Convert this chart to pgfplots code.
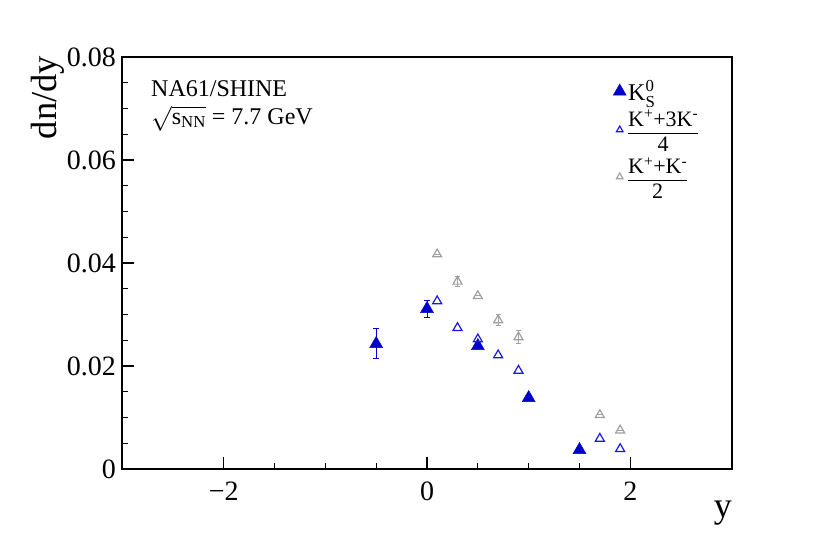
\documentclass[border=0pt]{standalone}
\usepackage{fontspec}
\setmainfont{Liberation Serif}
\usepackage{amsmath}
\usepackage{pgfplots}
\pgfplotsset{compat=1.18}
\definecolor{kfill}{RGB}{0,0,205}
\definecolor{kopen}{RGB}{25,25,230}
\definecolor{kgray}{RGB}{160,160,160}
\newdimen\kw
\newcommand{\kfrac}[2]{{\fontsize{22bp}{24bp}\selectfont
  \setbox0=\hbox{#1}\setbox2=\hbox{#2}%
  \kw=\wd0 \ifdim\wd2>\kw \kw=\wd2 \fi
  \raisebox{-3.5bp}{\vbox{\offinterlineskip
    \hbox to\kw{\hss\box0\hss}%
    \kern6bp
    \hrule height 1.5bp width\kw
    \kern\dimexpr 17.25bp-\ht2\relax
    \hbox to\kw{\hss\box2\hss}}}\rule[-7.5bp]{0pt}{1bp}}}
\begin{document}
\begin{tikzpicture}
\begin{axis}[
  name=ax,
  scale only axis,
  width=610bp, height=412bp,
  xmin=-3, xmax=3, ymin=0, ymax=0.08,
  axis line style={line width=1.3bp, black},
  every tick/.style={line width=1.1bp, black},
  tick pos=left, tick align=inside,
  major tick length=12bp, minor tick length=6bp,
  xtick={-2,0,2}, xticklabels={−2,0,2},
  ytick={0,0.02,0.04,0.06,0.08}, yticklabels={0,0.02,0.04,0.06,0.08},
  scaled y ticks=false,
  minor x tick num=3, minor y tick num=3,
  xticklabel style={font=\fontsize{28bp}{30bp}\selectfont, inner sep=0pt, yshift=-13bp},
  yticklabel style={font=\fontsize{28bp}{30bp}\selectfont, inner sep=0pt, xshift=-6bp},
  xlabel={y},
  xlabel style={font=\fontsize{36bp}{40bp}\selectfont, inner sep=0pt, at={(axis description cs:1,-0.078)}, anchor=north east},
  legend style={draw=none, fill=none, font=\fontsize{24bp}{26bp}\selectfont,
    at={(axis description cs:0.805,0.948)}, anchor=north west, row sep=4bp,
    legend cell align=left, inner sep=0pt,
    /tikz/every even column/.append style={column sep=8bp}},
  legend image code/.code={\draw[#1] plot coordinates {(0bp,0bp)};},
  clip=false,
]
\addplot+[only marks, mark=triangle*, mark size=7.5bp, color=kfill, mark options={fill=kfill, draw=kfill},
  error bars/.cd, y dir=both, y explicit, error bar style={line width=1bp, kfill}, error mark options={rotate=90, mark size=3bp, line width=1bp}]
  coordinates {
  (-0.5,0.0243) +- (0,0.0029)
  (0.0,0.0311) +- (0,0.0017)
  (0.5,0.0239) +- (0,0.0004)
  (1.0,0.0138) +- (0,0.0004)
  (1.5,0.0037) +- (0,0.0003)
};
\addlegendentry{K$^{\text{0}}_{\text{S}}$\rule[-10bp]{0pt}{1bp}}
\addplot+[only marks, mark=triangle, mark size=5.2bp, color=kopen, mark options={draw=kopen, line width=1.2bp, fill=white},
  legend image post style={mark size=3.8bp}]
  coordinates {
  (0.1,0.0326) (0.3,0.0274) (0.5,0.0252) (0.7,0.0221) (0.9,0.0191) (1.7,0.0059) (1.9,0.0039)
};
\addlegendentry{\kfrac{K\textsuperscript{+}+3K\textsuperscript{-}}{4}}
\addplot+[only marks, mark=triangle, mark size=5.2bp, color=kgray, mark options={draw=kgray, line width=1.2bp, fill=white},
  legend image post style={mark size=3.8bp},
  error bars/.cd, y dir=both, y explicit, error bar style={line width=1bp, kgray}, error mark options={rotate=90, mark size=2.5bp, line width=1bp}]
  coordinates {
  (0.1,0.0417) +- (0,0)
  (0.3,0.0364) +- (0,0.0010)
  (0.5,0.0336) +- (0,0)
  (0.7,0.0289) +- (0,0.0011)
  (0.9,0.0256) +- (0,0.0012)
  (1.7,0.0105) +- (0,0)
  (1.9,0.0075) +- (0,0)
};
\addlegendentry{\kfrac{K\textsuperscript{+}+K\textsuperscript{-}}{2}}
\node[anchor=base west, font=\fontsize{24bp}{26bp}\selectfont, inner sep=0pt] at (axis description cs:0.0475,0.903) {NA61/SHINE};
\node[anchor=base west, font=\fontsize{24bp}{26bp}\selectfont, inner sep=0pt] at (axis description cs:0.0475,0.837) {$\sqrt{\text{s}_{\text{NN}}}$ = 7.7 GeV};
\node[rotate=90, anchor=east, font=\fontsize{36.5bp}{40bp}\selectfont, inner sep=0pt] at (axis description cs:-0.122,1.003) {dn/dy};
\end{axis}
\pgfresetboundingbox
\path ([xshift=-122bp,yshift=-84bp]ax.south west) rectangle ([xshift=82bp,yshift=57bp]ax.north east);
\end{tikzpicture}
\end{document}
